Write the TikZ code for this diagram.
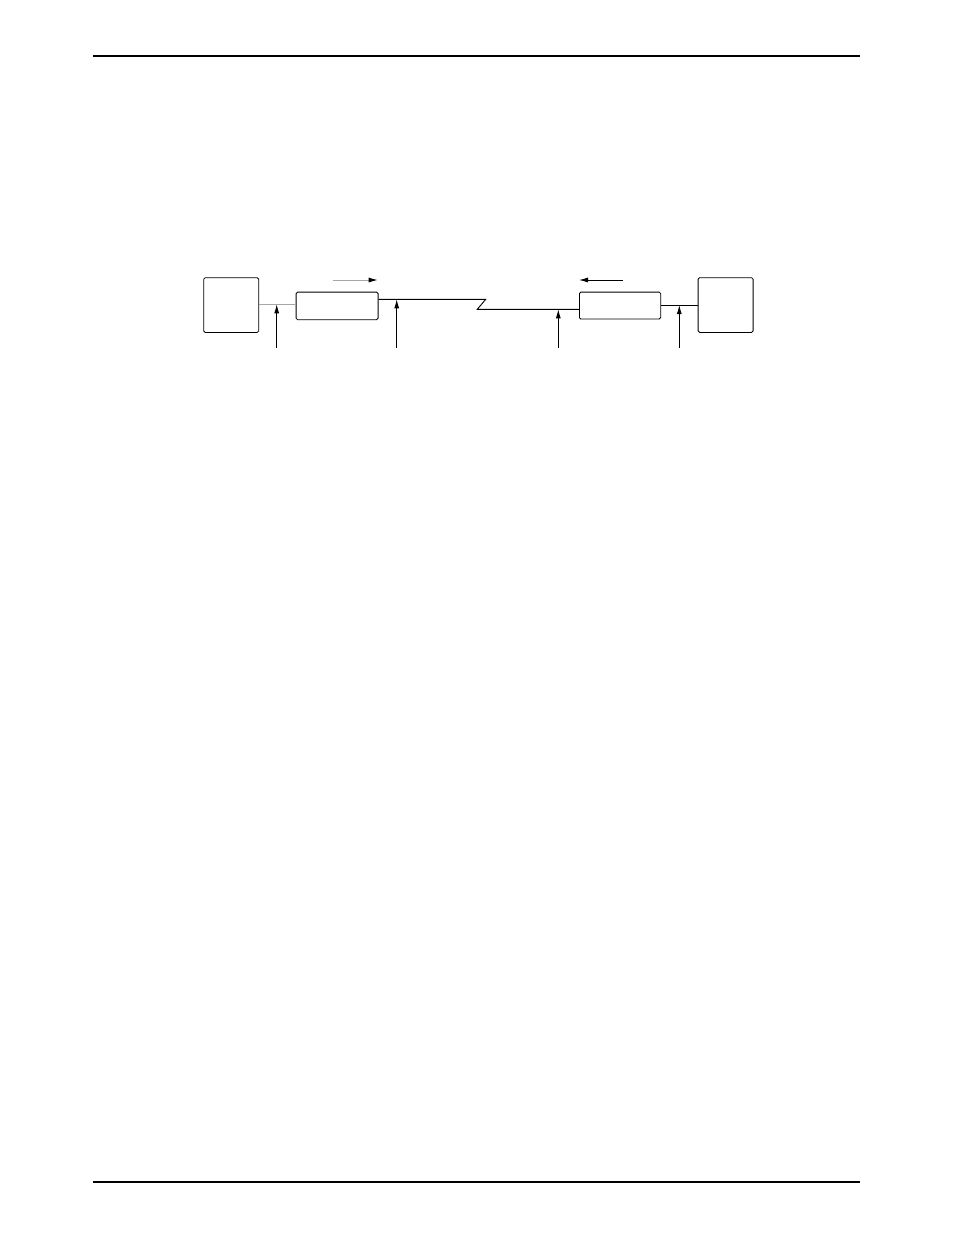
\documentclass[tikz,border=0pt]{standalone}
\usetikzlibrary{arrows.meta}
\begin{document}
\begin{tikzpicture}[x=1pt,y=-1pt,
  blk/.style={draw,line width=0.8pt,rounded corners=1.5pt,inner sep=0pt,anchor=north west},
  wire/.style={line width=0.9pt},
  probe/.style={line width=0.9pt,-{Latex[length=9pt,width=5pt]}},
  rule/.style={line width=1.3pt}]
\useasboundingbox (0,0) rectangle (954,1235);
\draw[rule] (93,56) -- (860,56);
\draw[rule] (93,1182) -- (860,1182);
% boxes
\node[blk,minimum width=55pt,minimum height=54.7pt] (t1) at (203.3,277.3) {};
\node[blk,minimum width=82pt,minimum height=27.6pt] (m1) at (295.7,291.7) {};
\node[blk,minimum width=81.3pt,minimum height=27pt] (m2) at (579,291.7) {};
\draw[gray!70,line width=0.9pt] ([xshift=1pt]m2.south west) -- ([xshift=-1pt]m2.south east);
\node[blk,minimum width=55pt,minimum height=54.7pt] (t2) at (697.7,277.3) {};
% wires
\draw[wire,gray!70] (t1.east |- 0,304.3) -- (m1.west |- 0,304.3);
\draw[wire] (m1.east |- 0,299.3) -- (485.7,299.3) -- (477.3,309.3) -- (m2.west |- 0,309.3);
\draw[wire] (m2.east |- 0,305) -- (t2.west |- 0,305);
% direction arrows
\coordinate (d1s) at (333,280); \coordinate (d1e) at (377.7,280);
\draw[wire,gray!70,-{Latex[length=9pt,width=5pt,black]}] (d1s) -- (d1e);
\coordinate (d2s) at (622.7,280); \coordinate (d2e) at (579,280);
\draw[wire,-{Latex[length=9pt,width=5pt]}] (d2s) -- (d2e);
% probes
\foreach \n/\x/\y in {p1/276.7/304.3, p2/396.7/299.3, p3/558.3/309.3, p4/679.3/305}{
  \coordinate (\n b) at (\x,348);
  \coordinate (\n t) at (\x,\y);
  \draw[probe] (\n b) -- (\n t);
}
\end{tikzpicture}
\end{document}
